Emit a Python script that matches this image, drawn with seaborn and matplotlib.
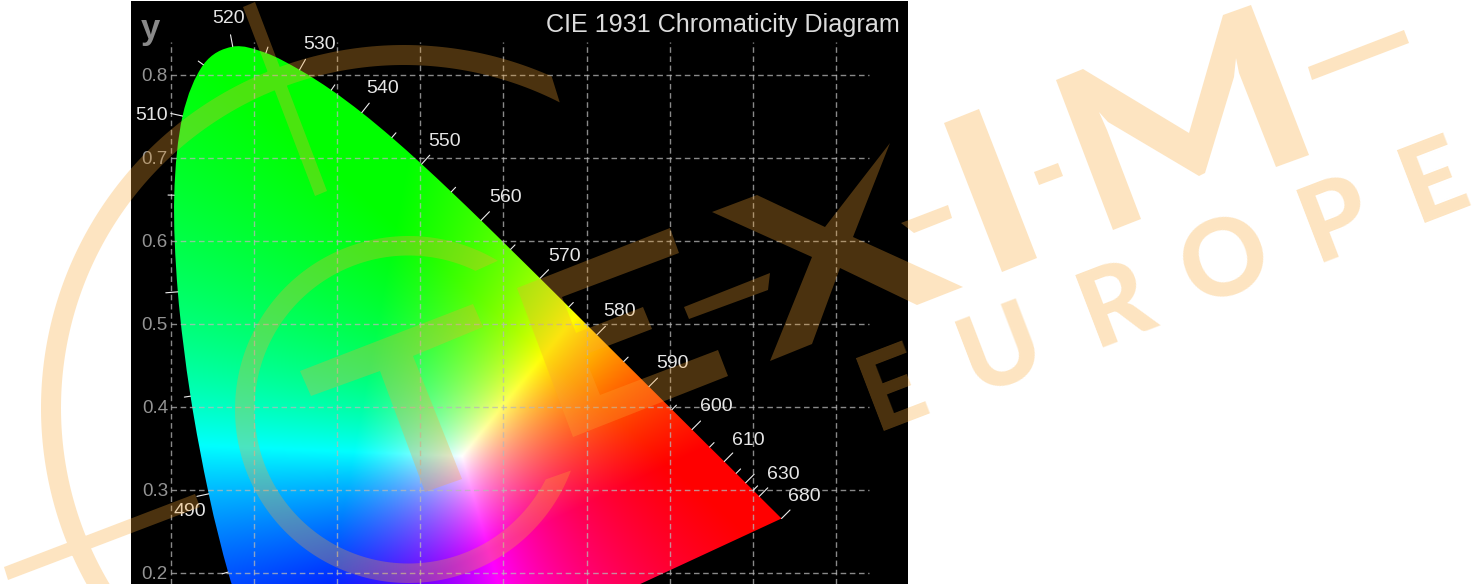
import numpy as np
import pandas as pd
import matplotlib
matplotlib.use('Agg')
import matplotlib.pyplot as plt
import seaborn as sns
from matplotlib.patches import PathPatch
from matplotlib.path import Path

# spectral locus, every 5 nm
wavelengths = [380, 400, 420, 440, 450, 460, 465, 470, 475, 480, 485, 490, 495, 500, 505, 510, 515,
               520, 525, 530, 535, 540, 545, 550, 555, 560, 565, 570, 575, 580, 585, 590, 595,
               600, 605, 610, 615, 620, 625, 630, 640, 650, 660, 670, 680]
locus_x = [0.1741, 0.1733, 0.1714, 0.1644, 0.1566, 0.1440, 0.1355, 0.1241, 0.1096, 0.0913, 0.0687, 0.0454, 0.0235, 0.0082, 0.0039, 0.0139, 0.0389,
           0.0743, 0.1142, 0.1547, 0.1929, 0.2296, 0.2658, 0.3016, 0.3373, 0.3731, 0.4087, 0.4441, 0.4788, 0.5125, 0.5448, 0.5752, 0.6029,
           0.6270, 0.6482, 0.6658, 0.6801, 0.6915, 0.7006, 0.7079, 0.7190, 0.7260, 0.7300, 0.7334, 0.7347]
locus_y = [0.0050, 0.0048, 0.0051, 0.0109, 0.0177, 0.0297, 0.0399, 0.0578, 0.0868, 0.1327, 0.2007, 0.2950, 0.4127, 0.5384, 0.6548, 0.7502, 0.8120,
           0.8338, 0.8262, 0.8059, 0.7816, 0.7543, 0.7243, 0.6923, 0.6589, 0.6245, 0.5896, 0.5547, 0.5202, 0.4866, 0.4544, 0.4242, 0.3965,
           0.3725, 0.3514, 0.3340, 0.3197, 0.3083, 0.2993, 0.2920, 0.2809, 0.2740, 0.2700, 0.2666, 0.2653]

grid_x = [0.0, 0.1, 0.2, 0.3, 0.4, 0.5, 0.6, 0.7, 0.8]
grid_y = [0.2, 0.3, 0.4, 0.5, 0.6, 0.7, 0.8]
ytick_labels = ['0.2', '0.3', '0.4', '0.5', '0.6', '0.7', '0.8']
labelled_nm = [490, 510, 520, 530, 540, 550, 560, 570, 580, 590, 600, 610, 630, 680]
title = 'CIE 1931 Chromaticity Diagram'

# label offsets from the locus, in pixels
label_dx = [-19, -31, -4, 20, 21, 23, 25, 24, 23, 23, 24, 24, 24, 23]
label_dy = [-18, 1, 28, 25, 24, 23, 23, 22, 23, 23, 23, 21, 22, 22]

W, H = 1477, 584
sns.set_style('white')
plt.rcParams['font.family'] = ['Liberation Sans', 'DejaVu Sans']
plt.rcParams['lines.scale_dashes'] = False

fig = plt.figure(figsize=(W / 100, H / 100), dpi=100, facecolor='white')
ax = fig.add_axes([131 / W, 0, 777 / W, 583 / H], facecolor='black')
xlim = ((131 - 171) / 831, (908 - 171) / 831)
ylim = (0.8 - (584 - 74.7) / 830, 0.8 + (74.7 - 1) / 830)
ax.set_xticks([])
ax.set_yticks([])
for s in ax.spines.values():
    s.set_visible(False)

lx = np.array(locus_x)
ly = np.array(locus_y)
pts = np.column_stack([lx, ly])

# colour field: three display primaries and the white point seen in the picture
primaries = np.array([[0.60, 0.27, 0.18],
                      [0.33, 0.62, 0.13]])
primaries = np.vstack([primaries, 1 - primaries.sum(axis=0)])
white = np.array([0.35, 0.34, 0.31])
to_rgb = np.linalg.inv(primaries)
scale = to_rgb @ white

gx, gy = np.meshgrid(np.linspace(0, 0.76, 900), np.linspace(0.15, 0.86, 800))
xyz = np.dstack([gx, gy, 1 - gx - gy])
rgb = np.clip(xyz @ to_rgb.T / scale, 0, None)
rgb = rgb / rgb.max(axis=2, keepdims=True)
img = ax.imshow(rgb, origin='lower', extent=(0, 0.76, 0.15, 0.86), aspect='auto', interpolation='bilinear', zorder=1)
ax.set_xlim(xlim)
ax.set_ylim(ylim)

# smooth outline through the locus points for the clip
verts = [tuple(pts[0])]
codes = [Path.MOVETO]
for i in range(len(pts) - 1):
    p0 = pts[max(i - 1, 0)]
    p1 = pts[i]
    p2 = pts[i + 1]
    p3 = pts[min(i + 2, len(pts) - 1)]
    verts += [tuple(p1 + (p2 - p0) / 6), tuple(p2 - (p3 - p1) / 6), tuple(p2)]
    codes += [Path.CURVE4] * 3
verts.append(tuple(pts[0]))
codes.append(Path.CLOSEPOLY)
shape = PathPatch(Path(verts, codes), transform=ax.transData, fill=False, lw=0)
ax.add_patch(shape)
img.set_clip_path(shape)

# dashed grid
dash = (0, (4.0, 2.6))
ax.hlines(grid_y, 0, 0.84, colors='#b8b8b8', lw=1.0, linestyles=[dash], alpha=0.75, zorder=2)
ax.vlines(grid_x, ylim[0], 0.84, colors='#b8b8b8', lw=1.0, linestyles=[dash], alpha=0.75, zorder=2)

# wavelength ticks, normal to the locus
tx = np.gradient(lx)
ty = np.gradient(ly)
norm = np.hypot(tx, ty)
nx, ny = ty / norm, -tx / norm
rows = []
for i, w in enumerate(wavelengths):
    if w < 485 or (w > 630 and w != 680):
        continue
    length = 0.0145 if w % 10 == 0 else 0.0075
    rows.append({'nm': w, 'x': lx[i], 'y': ly[i]})
    rows.append({'nm': w, 'x': lx[i] - nx[i] * length, 'y': ly[i] - ny[i] * length})
ticks = pd.DataFrame(rows)
sns.lineplot(data=ticks, x='x', y='y', units='nm', estimator=None, sort=False, color='#eeeeee', lw=0.8, ax=ax, zorder=3)
ax.set_xlabel('')
ax.set_ylabel('')
ax.set_xlim(xlim)
ax.set_ylim(ylim)

for w, dx, dy in zip(labelled_nm, label_dx, label_dy):
    i = wavelengths.index(w)
    ax.annotate(str(w), xy=(lx[i], ly[i]), xytext=(dx, dy), textcoords='offset pixels', ha='center', va='center',
                color='#e6e6e6', fontsize=14, zorder=4)

for v, lab in zip(grid_y, ytick_labels):
    ax.annotate(lab, xy=(0, v), xytext=(-3, -2), textcoords='offset pixels', ha='right', va='center', color='#949494', fontsize=13.5, zorder=4)

ax.text(0.9897, 0.959, title, transform=ax.transAxes, ha='right', va='center', color='#dcdcdc', fontsize=18.1, zorder=4)
ax.annotate('y', xy=(0, 1), xycoords='axes fraction', xytext=(19, -28), textcoords='offset pixels', ha='center', va='center',
            color='#8a8a8a', fontsize=25, fontweight='bold', zorder=4)

# watermark, drawn in picture pixels on top of everything
wm = fig.add_axes([0, 0, 1, 1], facecolor='none')
wm.set_xlim(0, W)
wm.set_ylim(H, 0)
wm.axis('off')
wm_color = '#FAA732'
wm_alpha = 0.30


def ring(cx, cy, r_out, r_in, a0_out, a1_out, a0_in, a1_in):
    t_out = np.radians(np.linspace(a0_out, a1_out, 240))
    t_in = np.radians(np.linspace(a1_in, a0_in, 240))
    return np.vstack([np.column_stack([cx + r_out * np.cos(t_out), cy + r_out * np.sin(t_out)]),
                      np.column_stack([cx + r_in * np.cos(t_in), cy + r_in * np.sin(t_in)])])


shapes = [
    ring(404, 408, 363, 343, 90, 294, 90, 297),
    ring(408.5, 409.5, 173.5, 154, 20.6, 301, 27, 295.8),
    np.array([(243, 7), (255, 2), (327, 191), (315, 196)]),
    np.array([(4, 567), (195, 494), (200, 507), (8, 580)]),
    np.array([(300, 371), (473, 304), (483, 327), (413, 356), (462, 479), (425, 492), (380, 371), (311, 396)]),
    np.array([(517, 288), (670, 228), (679, 253), (562, 297), (576, 333), (643, 307), (652, 329), (584, 355),
              (600, 395), (718, 350), (728, 376), (573, 437)]),
    np.array([(684, 307), (770, 273), (768, 290), (689, 319)]),
    np.array([(712, 212), (757, 195), (825, 227), (890, 143), (853, 237), (963, 287), (917, 305), (840, 268),
              (812, 344), (770, 361), (812, 257)]),
    np.array([(901, 223), (948, 205), (952, 218), (914, 233)]),
    np.array([(944, 123), (979, 109), (1037, 258), (1002, 272)]),
    np.array([(1034, 172), (1058, 163), (1063, 176), (1039, 185)]),
    np.array([(1056, 80), (1083, 69), (1189, 133), (1223, 15), (1251, 5), (1309, 155), (1276, 167), (1239, 73),
              (1236, 58), (1234, 77), (1205, 173), (1199, 176), (1108, 122), (1099, 112), (1107, 130), (1141, 219), (1113, 230)]),
    np.array([(1308, 67), (1404, 30), (1409, 43), (1312, 80)]),
]

# one compound path with the same winding, so crossings do not blend twice
wm_verts, wm_codes = [], []
for p in shapes:
    area = 0.5 * np.sum(p[:, 0] * np.roll(p[:, 1], -1) - np.roll(p[:, 0], -1) * p[:, 1])
    if area < 0:
        p = p[::-1]
    wm_verts += list(map(tuple, p)) + [tuple(p[0])]
    wm_codes += [Path.MOVETO] + [Path.LINETO] * (len(p) - 1) + [Path.CLOSEPOLY]
wm.add_patch(PathPatch(Path(wm_verts, wm_codes), facecolor=wm_color, edgecolor='none', alpha=wm_alpha))

europe = ['E', 'U', 'R', 'O', 'P', 'E']
europe_x = [893, 1002, 1116, 1225, 1336, 1434]
europe_y = [391, 351, 306, 263, 221, 183]
for ch, x, y in zip(europe, europe_x, europe_y):
    wm.text(x, y, ch, ha='center', va='center', rotation=21, rotation_mode='anchor',
            color=wm_color, alpha=wm_alpha, fontsize=77, fontweight=900,
            family=['Lato', 'Roboto'])

fig.savefig('out.png', dpi=100)
